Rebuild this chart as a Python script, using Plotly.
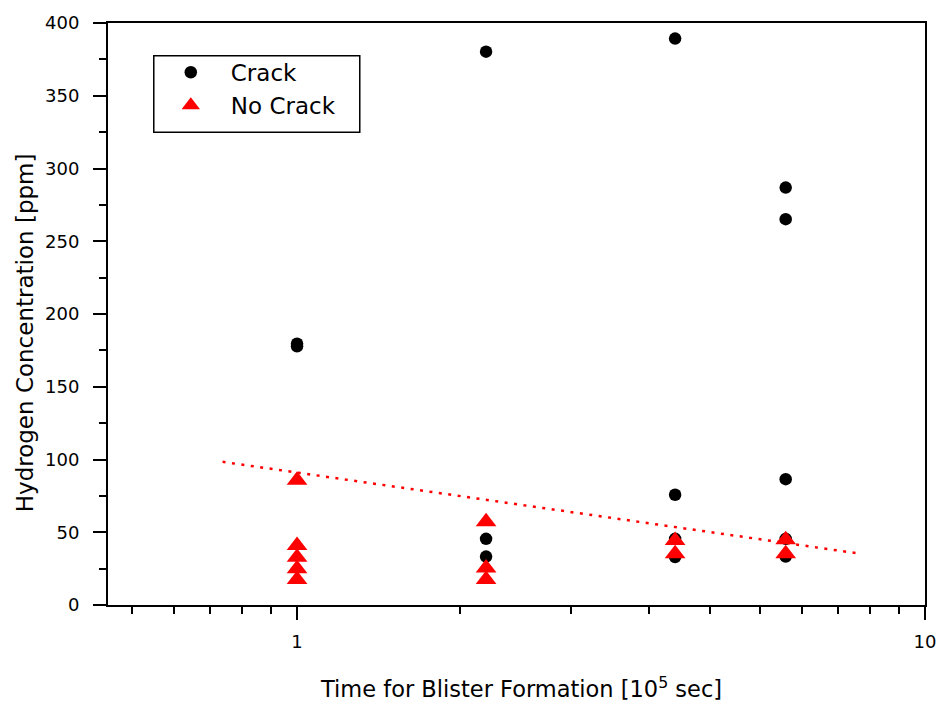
import plotly.graph_objects as go

# ---- data ----
crack_x = [1, 1, 2, 2, 2, 4, 4, 4, 4, 6, 6, 6, 6, 6]
crack_y = [179.6, 177.8, 380.3, 45.5, 33.3, 389.3, 75.8, 45.5, 33.0, 286.9, 265.2, 86.5, 45.5, 33.3]

nocrack_x = [1, 1, 1, 1, 1, 2, 2, 2, 4, 4, 6, 6]
nocrack_y = [85.8, 40.9, 32.9, 25.0, 17.5, 57.3, 25.4, 17.5, 44.3, 35.2, 44.8, 35.2]

trend_x = [0.761, 7.87]
trend_y = [98.4, 35.3]

x_tick_vals = [1, 10]
x_tick_text = ["1", "10"]
x_minor_vals = [0.5455, 0.6364, 0.7273, 0.8182, 0.9091, 1.8182, 2.7273, 3.6364,
                4.5455, 5.4545, 6.3636, 7.2727, 8.1818, 9.0909]

FONT = "DejaVu Sans"

fig = go.Figure()
fig.add_trace(go.Scatter(x=trend_x, y=trend_y, mode="lines",
                         line=dict(color="#ff0000", width=2.5, dash="3px,6.5px"),
                         showlegend=False, hoverinfo="skip"))
fig.add_trace(go.Scatter(x=crack_x, y=crack_y, mode="markers", name="Crack",
                         marker=dict(symbol="circle", size=12.5, color="black",
                                     line=dict(width=0))))
fig.add_trace(go.Scatter(x=nocrack_x, y=nocrack_y, mode="markers", name="No Crack",
                         marker=dict(symbol="triangle-up", size=18, color="#ff0000",
                                     line=dict(width=0))))

L, R, T, B = 108, 19, 19, 102
W, H = 948, 707
pw, ph = W - L - R, H - T - B

def px_x(p):
    return (p - L) / pw

def px_y(p):
    return (H - B - p) / ph

fig.update_layout(
    width=W, height=H,
    margin=dict(l=L, r=R, t=T, b=B, pad=0),
    paper_bgcolor="white", plot_bgcolor="white",
    font=dict(family=FONT, color="black", size=18),
    legend=dict(x=px_x(151), y=px_y(47), xanchor="left", yanchor="top",
                bgcolor="rgba(0,0,0,0)", borderwidth=0,
                font=dict(family=FONT, size=23, color="black"),
                itemwidth=70, tracegroupgap=0),
    xaxis=dict(type="log", range=[-0.30103, 1.0], showgrid=False, zeroline=False,
               showline=True, linecolor="black", linewidth=2, mirror=True,
               tickmode="array", tickvals=x_tick_vals, ticktext=x_tick_text,
               ticks="outside", ticklen=13, tickwidth=2, tickcolor="black",
               ticklabelstandoff=6,
               tickfont=dict(family=FONT, size=18, color="black"),
               minor=dict(tickmode="array", tickvals=x_minor_vals, ticks="outside",
                          ticklen=7, tickwidth=2, tickcolor="black", showgrid=False)),
    yaxis=dict(range=[0, 400], showgrid=False, zeroline=False,
               showline=True, linecolor="black", linewidth=2, mirror=True,
               tickmode="linear", tick0=0, dtick=50,
               ticks="outside", ticklen=13, tickwidth=2, tickcolor="black",
               ticklabelstandoff=10,
               tickfont=dict(family=FONT, size=18, color="black"),
               minor=dict(tick0=0, dtick=25, ticks="outside",
                          ticklen=7, tickwidth=2, tickcolor="black", showgrid=False)),
    shapes=[dict(type="rect", xref="paper", yref="paper",
                 x0=px_x(154), x1=px_x(361), y0=px_y(129), y1=px_y(52),
                 line=dict(color="black", width=1.5), fillcolor="rgba(0,0,0,0)")],
    annotations=[
        dict(text="Time for Blister Formation [10<sup>5</sup> sec]",
             xref="paper", yref="paper", x=px_x(523), y=px_y(688),
             xanchor="center", yanchor="middle", showarrow=False,
             font=dict(family=FONT, size=22.5, color="black")),
        dict(text="Hydrogen Concentration [ppm]",
             xref="paper", yref="paper", x=px_x(24), y=px_y(331),
             xanchor="center", yanchor="middle", showarrow=False, textangle=-90,
             font=dict(family=FONT, size=23, color="black")),
    ],
)

fig.write_html("out.html")
